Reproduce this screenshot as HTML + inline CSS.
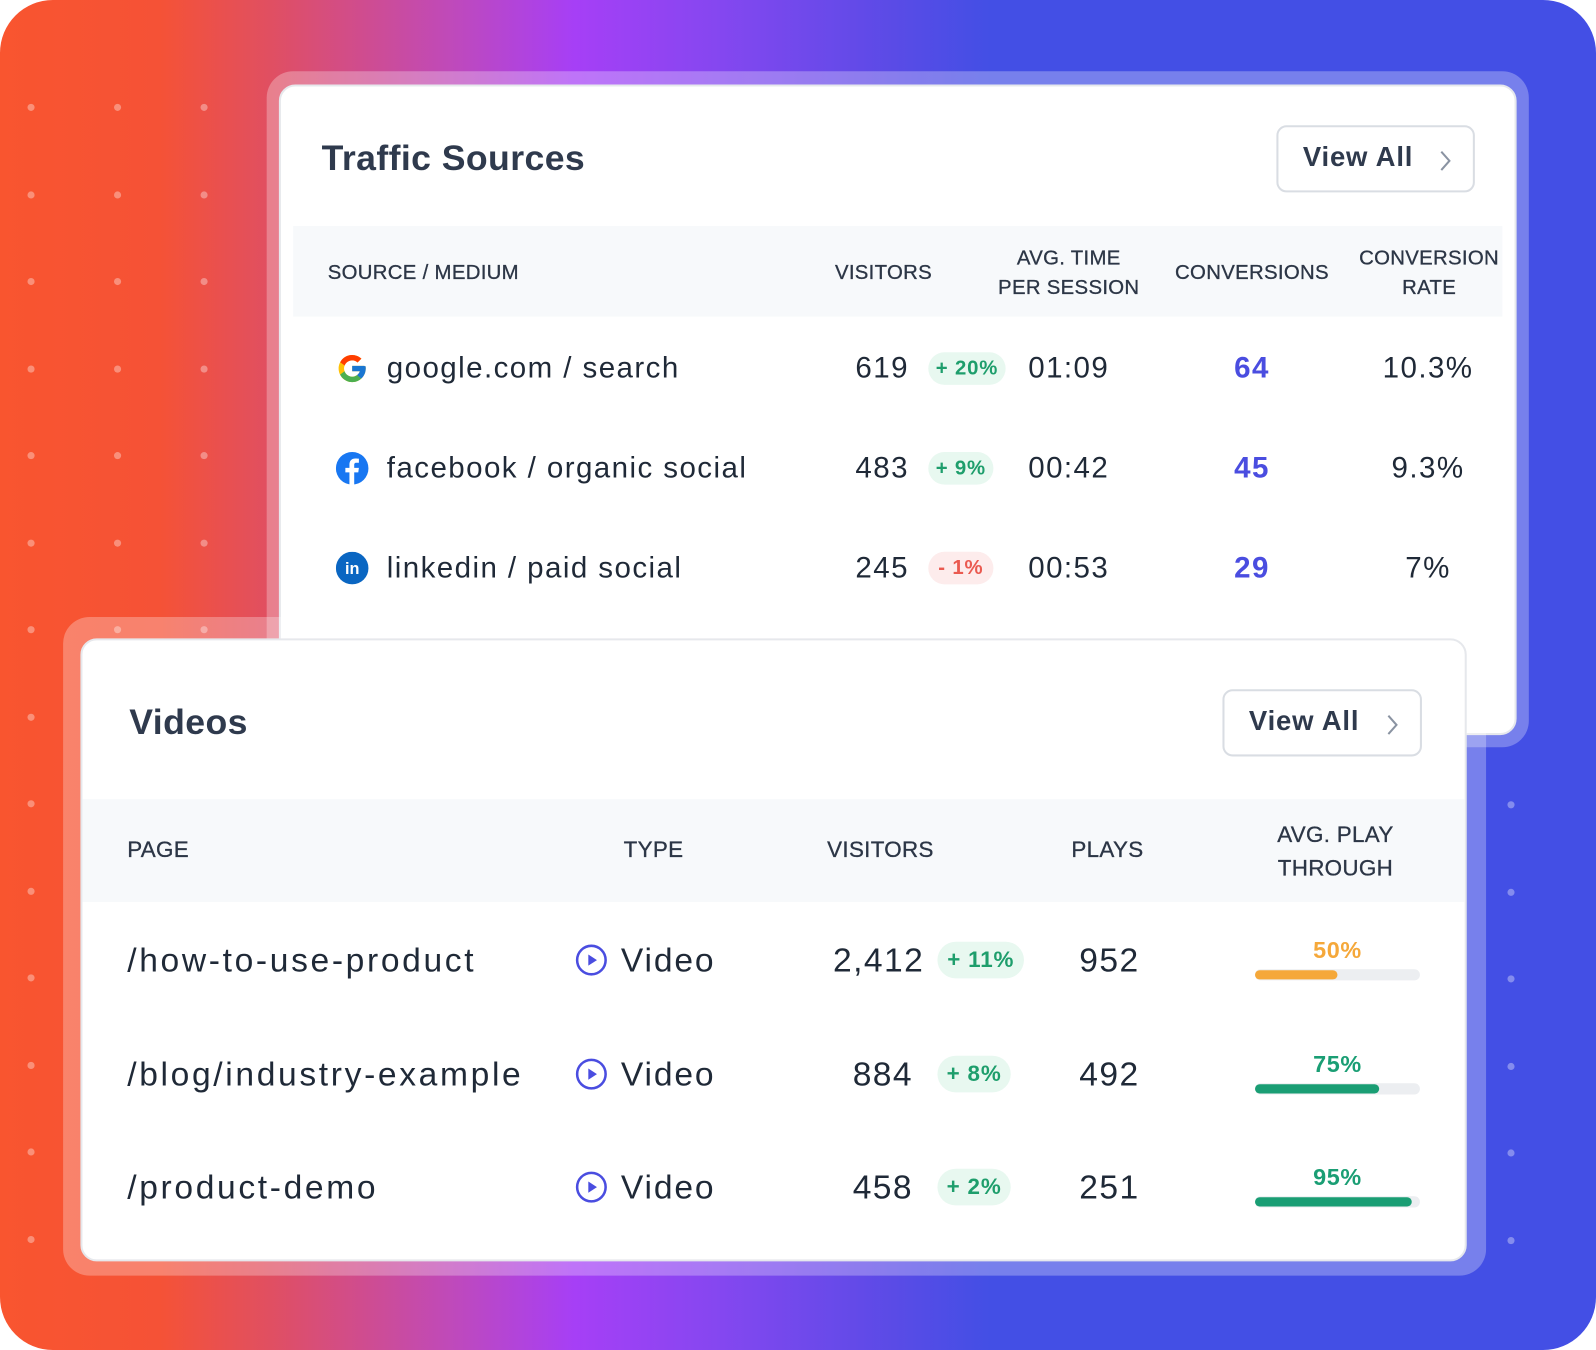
<!DOCTYPE html>
<html><head><meta charset="utf-8">
<style>
html,body{margin:0;padding:0;width:1596px;height:1350px;overflow:hidden;background:#fff;font-family:"Liberation Sans",sans-serif;}
#wrap{position:absolute;left:0;top:0;width:1568px;height:1326px;transform:scale(1.01786,1.0181);transform-origin:0 0;}
#bg{position:absolute;left:0;top:0;width:1568px;height:1326px;border-radius:52px;background:linear-gradient(90deg,#f9552f 0%,#f55236 10%,#e04f62 17%,#c04ab8 28%,#a63ff6 36%,#8547f0 45%,#5a4be6 56%,#434fe5 62%,#434fe5 100%);overflow:hidden;}
.dot{position:absolute;width:7px;height:7px;border-radius:50%;background:rgba(255,255,255,0.35);}
.frame{position:absolute;background:rgba(255,255,255,0.28);border-radius:26px;}
.card{position:absolute;background:#fff;border-radius:16px;border:2px solid #e6e8ec;box-sizing:border-box;}
.abs{position:absolute;white-space:nowrap;}
.title{font-weight:bold;color:#2f3a4d;font-size:35px;letter-spacing:0.4px;}
.btn{position:absolute;border:2px solid #d9dde3;border-radius:10px;box-sizing:border-box;background:#fff;}
.btn span{position:absolute;left:24px;top:14px;font-size:27px;font-weight:bold;color:#2f3a4d;letter-spacing:0.8px;}
.btn svg{position:absolute;right:20px;top:22px;}
.band{position:absolute;background:#f7f9fb;}
.hd{position:absolute;font-size:20px;color:#2c3646;text-align:center;line-height:29px;white-space:nowrap;letter-spacing:0.3px;-webkit-text-stroke:0.3px #2c3646;}
.cell{position:absolute;font-size:29px;color:#1f2937;white-space:nowrap;letter-spacing:1.4px;}
.badge{position:absolute;height:32px;border-radius:16px;font-size:20px;font-weight:bold;line-height:32px;text-align:center;letter-spacing:0.8px;}
.up{background:#e8f8f0;color:#1e9e6c;}
.dn{background:#fdecec;color:#ea5a50;}
</style></head><body>
<div id="wrap">
<div id="bg"></div>

<div class="frame" style="left:262px;top:70px;width:1240px;height:664px;"></div>
<div class="card" style="left:274px;top:83px;width:1216px;height:639px;">
</div>
<div class="abs title" style="left:316px;top:136px;">Traffic Sources</div>
<div class="btn" style="left:1254px;top:123px;width:195px;height:66px;"><span>View All</span><svg width="14" height="22" viewBox="0 0 14 22"><path d="M3 2 L11 11 L3 20" fill="none" stroke="#8a93a2" stroke-width="2"/></svg></div>
<div class="band" style="left:288px;top:222px;width:1188px;height:89px;"></div>
<div class="hd" style="left:322px;top:254px;text-align:left;">SOURCE / MEDIUM</div>
<div class="hd" style="left:808px;top:254px;width:120px;">VISITORS</div>
<div class="hd" style="left:970px;top:240px;width:160px;">AVG. TIME<br>PER SESSION</div>
<div class="hd" style="left:1150px;top:254px;width:160px;">CONVERSIONS</div>
<div class="hd" style="left:1330px;top:240px;width:148px;">CONVERSION<br>RATE</div>

<div class="frame" style="left:62px;top:606px;width:1398px;height:647px;"></div>
<div class="card" style="left:79px;top:627px;width:1362px;height:612px;"></div>
<div class="abs title" style="left:127px;top:690px;">Videos</div>
<div class="btn" style="left:1201px;top:677px;width:196px;height:66px;"><span>View All</span><svg width="14" height="22" viewBox="0 0 14 22"><path d="M3 2 L11 11 L3 20" fill="none" stroke="#8a93a2" stroke-width="2"/></svg></div>
<div class="band" style="left:81px;top:785px;width:1358px;height:101px;"></div>
<div class="hd" style="left:125px;top:820px;text-align:left;font-size:22px;">PAGE</div>
<div class="hd" style="left:582px;top:820px;width:120px;font-size:22px;">TYPE</div>
<div class="hd" style="left:795px;top:820px;width:140px;font-size:22px;">VISITORS</div>
<div class="hd" style="left:1028px;top:820px;width:120px;font-size:22px;">PLAYS</div>
<div class="hd" style="left:1232px;top:803px;width:160px;font-size:22px;line-height:33px;">AVG. PLAY<br>THROUGH</div>
</div>
<script>
var sources=["google.com / search","facebook / organic social","linkedin / paid social"];
var srcVisitors=["619","483","245"];
var srcChange=[20,9,-1];
var srcTime=["01:09","00:42","00:53"];
var srcConversions=[64,45,29];
var srcRate=["10.3%","9.3%","7%"];
var pages=["/how-to-use-product","/blog/industry-example","/product-demo"];
var pageVisitors=["2,412","884","458"];
var pageChange=[11,8,2];
var pagePlays=[952,492,251];
var playThrough=[50,75,95];

var wrap=document.getElementById('wrap');
function mk(cls,html,style){var d=document.createElement('div');d.className=cls;d.innerHTML=html;d.style.cssText=style;wrap.appendChild(d);return d;}
var dotX=[30,115,200];
for(var r=0;r<14;r++){for(var c=0;c<3;c++){var y=105+r*85.5;var d=mk('dot','','left:'+(dotX[c]-3)+'px;top:'+(y-3)+'px;');


wrap.insertBefore(d,wrap.children[1]);}}
for(var r=0;r<6;r++){var d=mk('dot','','left:1481px;top:'+(787+r*85.5)+'px;');


wrap.insertBefore(d,wrap.children[1]);}
var icons=[
'<svg width="32" height="32" viewBox="0 0 48 48"><path d="M43.6 20.5H42V20H24v8h11.3C33.7 32.7 29.2 36 24 36c-6.6 0-12-5.4-12-12s5.4-12 12-12c3.1 0 5.8 1.2 7.9 3l5.7-5.7C34 6.1 29.3 4 24 4 12.9 4 4 12.9 4 24s8.9 20 20 20 20-8.9 20-20c0-1.3-.1-2.4-.4-3.5z" fill="#FFC107"/><path d="M6.3 14.7l6.6 4.8C14.7 15.1 19 12 24 12c3.1 0 5.8 1.2 7.9 3l5.7-5.7C34 6.1 29.3 4 24 4 16.3 4 9.7 8.3 6.3 14.7z" fill="#FF3D00"/><path d="M24 44c5.2 0 9.9-2 13.4-5.2l-6.2-5.2C29.2 35.1 26.7 36 24 36c-5.2 0-9.600-3.3-11.3-8l-6.5 5C9.5 39.6 16.2 44 24 44z" fill="#4CAF50"/><path d="M43.6 20.5H42V20H24v8h11.3c-.8 2.2-2.2 4.2-4.1 5.6l6.2 5.2C37 39.2 44 34 44 24c0-1.3-.1-2.4-.4-3.5z" fill="#1976D2"/></svg>',
'<svg width="32" height="32" viewBox="0 0 32 32"><circle cx="16" cy="16" r="16" fill="#1877f2"/><path d="M18 32V20h4l.6-4.5H18v-2.8c0-1.3.4-2.2 2.2-2.2h2.4v-4c-.4 0-1.8-.2-3.5-.2-3.5 0-5.8 2.1-5.8 6v3.2h-4V20h4v12z" fill="#fff"/></svg>',
'<svg width="32" height="32" viewBox="0 0 32 32"><circle cx="16" cy="16" r="16" fill="#0a66c2"/><text x="16" y="22" text-anchor="middle" font-family="Liberation Sans" font-weight="bold" font-size="16" fill="#fff">in</text></svg>'];
for(var i=0;i<3;i++){
 var y=362+i*98;
 var e;
 e=mk('abs',icons[i],'left:330px;top:'+(y-16)+'px;width:32px;height:32px;');
 
 
 e=mk('cell',sources[i],'left:380px;top:'+(y-16)+'px;');
 
 
 e=mk('cell',srcVisitors[i],'left:793px;width:100px;text-align:right;top:'+(y-16)+'px;');
 
 
 var ch=srcChange[i];var txt=(ch>=0?'+ ':'- ')+Math.abs(ch)+'%';var w=txt.length*12+16;
 e=mk('badge '+(ch>=0?'up':'dn'),txt,'left:912px;top:'+(y-16)+'px;width:'+w+'px;');
 
 
 e=mk('cell',srcTime[i],'left:990px;width:120px;text-align:center;top:'+(y-16)+'px;');
 
 
 e=mk('cell',srcConversions[i],'left:1170px;width:120px;text-align:center;top:'+(y-16)+'px;color:#4a4de0;font-weight:bold;');
 
 
 e=mk('cell',srcRate[i],'left:1343px;width:120px;text-align:center;top:'+(y-16)+'px;');
 
 
}
var barL=1233,barW=162;
function bx(v){return v/100*barW;}
for(var i=0;i<3;i++){
 var y=943+i*111.5;var e;
 e=mk('cell',pages[i],'left:125px;top:'+(y-19)+'px;font-size:33px;letter-spacing:2.6px;');
 
 
 e=mk('abs','<svg width="32" height="32" viewBox="0 0 32 32"><circle cx="16" cy="16" r="14" fill="none" stroke="#4a4de0" stroke-width="2.5"/><path d="M13 10.5 L21.5 16 L13 21.5z" fill="#4a4de0"/></svg>','left:565px;top:'+(y-16)+'px;');
 
 
 e=mk('cell','Video','left:610px;top:'+(y-19)+'px;font-size:33px;letter-spacing:1.8px;');
 
 
 e=mk('cell',pageVisitors[i],'left:760px;width:148px;text-align:right;top:'+(y-19)+'px;font-size:33px;');
 if(i>0)e.style.width='137px';
 
 
 var txt='+ '+pageChange[i]+'%';var w=txt.length*13+20;
 e=mk('badge up',txt,'left:921px;top:'+(y-18)+'px;width:'+w+'px;height:36px;line-height:36px;border-radius:18px;font-size:22px;');
 
 
 e=mk('cell',pagePlays[i],'left:1030px;width:120px;text-align:center;top:'+(y-19)+'px;font-size:33px;');
 
 
 var col=playThrough[i]<60?'#f5a83a':'#1a9e74';
 e=mk('abs',playThrough[i]+'%','left:'+barL+'px;width:'+barW+'px;text-align:center;top:'+(y-23)+'px;font-size:23px;font-weight:bold;letter-spacing:0.6px;color:'+col+';');
 
 
 e=mk('abs','','left:'+barL+'px;top:'+(y+9)+'px;width:'+barW+'px;height:11px;border-radius:6px;background:#eceef1;');
 
 
 e=mk('abs','','left:'+barL+'px;top:'+(y+10)+'px;width:'+bx(playThrough[i])+'px;height:9px;border-radius:5px;background:'+col+';');
 
 
}
</script>
</body></html>
